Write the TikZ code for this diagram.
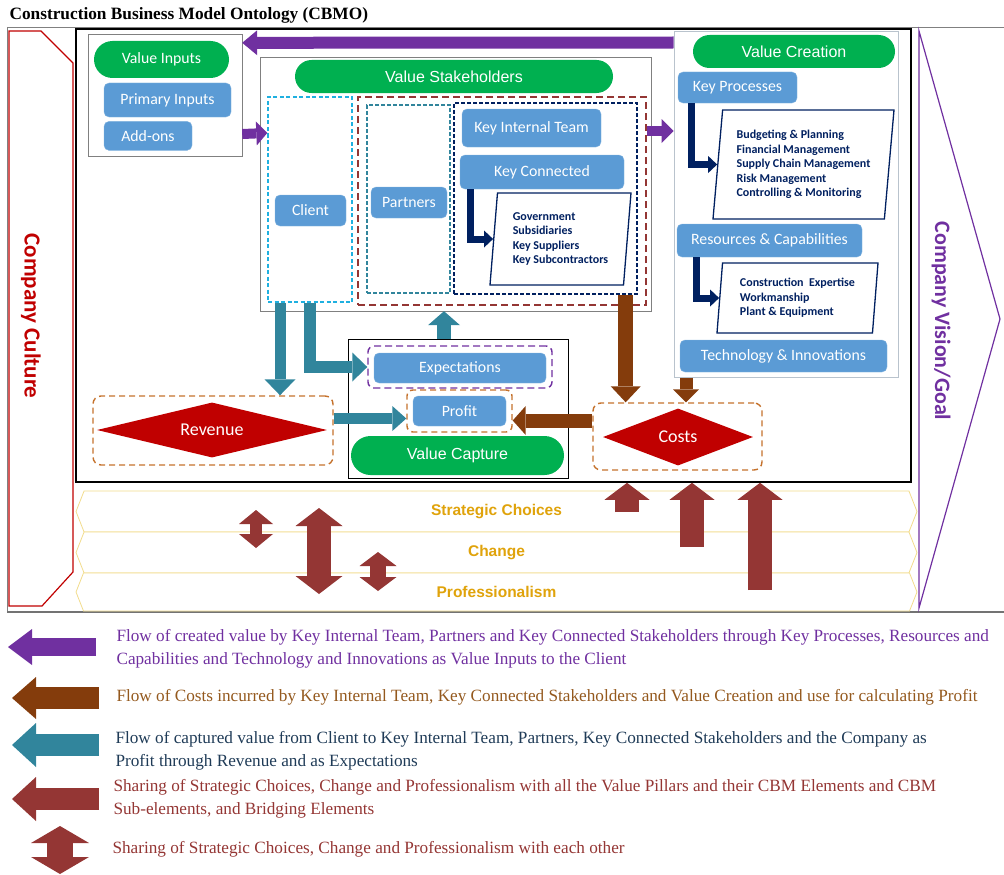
\documentclass[tikz,border=0pt]{standalone}
\usepackage{fontspec}
\setmainfont{Liberation Serif}
\newfontfamily\calibri{Carlito}
\newfontfamily\arialf{Liberation Sans}
\usetikzlibrary{positioning, arrows.meta, shapes.geometric, shapes.misc, shapes.symbols, fit}

\definecolor{cbgreen}{HTML}{00B050}
\definecolor{cbblue}{HTML}{5B9BD5}
\definecolor{cbpurple}{HTML}{7030A0}
\definecolor{cbteal}{HTML}{31859C}
\definecolor{cbbrown}{HTML}{843C0C}
\definecolor{cbmaroon}{HTML}{943634}
\definecolor{cbred}{HTML}{C00000}
\definecolor{cborange}{HTML}{C5722C}
\definecolor{cbcyan}{HTML}{1FB0E0}
\definecolor{cbnavy}{HTML}{002060}
\definecolor{cbgold}{HTML}{E0A30B}
\definecolor{cbpale}{HTML}{F2DC8C}
\definecolor{cbframe}{HTML}{B9C3CD}
\definecolor{cbcost}{HTML}{94591E}
\definecolor{cbslate}{HTML}{1F3B57}

\begin{document}
\begin{tikzpicture}[
    x=1pt, y=-1pt,
    pill/.style={rounded rectangle, fill=cbgreen, text=white, inner sep=0pt,
        font=\arialf\fontsize{16}{19}\selectfont},
    elem/.style={rectangle, rounded corners=5pt, fill=cbblue, draw=cbblue!75!white,
        text=white, inner sep=0pt, font=\calibri\fontsize{15.8}{18}\selectfont},
    pillar/.style={draw=#1, inner sep=0pt},
    zone/.style={draw=#1, dashed, line width=1.4pt, inner sep=0pt},
    sublist/.style={trapezium, trapezium left angle=82, trapezium right angle=98,
        trapezium stretches body, draw=cbnavy, line width=1.3pt, fill=white,
        align=left, text=cbnavy, inner sep=0pt,
        font=\calibri\bfseries\fontsize{12}{14.5}\selectfont},
    money/.style={diamond, fill=cbred, text=white, inner sep=0pt,
        font=\calibri\fontsize{18}{20}\selectfont},
    band/.style={signal, signal to=west and east, signal pointer angle=137,
        draw=cbpale, line width=0.8pt, fill=white, inner sep=0pt, text=cbgold,
        minimum width=841pt, font=\arialf\bfseries\fontsize{15.5}{17}\selectfont},
    legend/.style={anchor=west, align=left, font=\fontsize{17.2}{23}\selectfont},
    blockflow/.style n args={3}{line width=#1,
        -{Triangle[width=#2, length=#3, line width=0pt]}},
    twoflow/.style n args={3}{line width=#1,
        {Triangle[width=#2, length=#3, line width=0pt]}-{Triangle[width=#2, length=#3, line width=0pt]}}
]
\useasboundingbox (0,0) rectangle (1004,875);

% 标题
\node[anchor=base west, font=\bfseries\fontsize{17.3}{20}\selectfont] (title) at (6,20)
    {Construction Business Model Ontology (CBMO)};

% 外框
\draw[gray, line width=0.8pt] (7,27) -- (1004,27);
\draw[gray, line width=0.8pt] (7.5,27) -- (7.5,612);
\draw[gray!90!black, line width=2.5pt] (7,612) -- (1004,612);

% 企业文化与愿景
\draw[cbred, line width=1.2pt] (9,31) -- (41,31) -- (73,63) -- (73,572) -- (42,606) -- (9,606) -- cycle;
\node[rotate=-90, text=cbred, font=\calibri\bfseries\fontsize{23}{26}\selectfont] (culture) at (31,316) {Company Culture};
\draw[cbpurple, line width=1.2pt] (919,31) -- (1000,319) -- (919,608) -- cycle;
\node[rotate=-90, text=cbpurple, font=\calibri\bfseries\fontsize{22}{25}\selectfont] (vision) at (941,321) {Company Vision/Goal};

\node[draw=black, line width=1.6pt, inner sep=0pt, fit={(76,29) (911,482)}] (mainframe) {};

% 价值输入
\node[pillar=gray, fit={(88,34) (242,156)}] (inputsbox) {};
\node[pill, minimum width=135pt, minimum height=37pt, font=\calibri\fontsize{15.8}{18}\selectfont] (vinputs) at (161.5,59.5) {Value Inputs};
\node[elem, minimum width=127pt, minimum height=34pt] (primary) at (167.5,100) {Primary Inputs};
\node[elem, minimum width=88pt, minimum height=29pt, below=4pt of primary.south west, anchor=north west] (addons) {Add-ons};

% 价值相关方
\node[pillar=gray, fit={(260,57) (651,311)}] (shbox) {};
\node[pill, minimum width=318pt, minimum height=33pt] (vstake) at (454,76.5) {Value Stakeholders};
\node[zone=cbcyan, dash pattern=on 4pt off 2.5pt, fit={(268,97) (352,302)}] (clientzone) {};
\node[zone=cbmaroon, dash pattern=on 7pt off 4pt, fit={(358,97) (646,305)}] (sharezone) {};
\node[zone=cbteal, dash pattern=on 4pt off 2pt, fit={(367,105) (450,293)}] (partnerzone) {};
\node[zone=cbnavy, dash pattern=on 4pt off 2pt, fit={(454,103) (637,294)}] (teamzone) {};
\node[elem, minimum width=71pt, minimum height=31pt] (client) at (310.5,210.5) {Client};
\node[elem, minimum width=76pt, minimum height=31pt] (partners) at (409,202.5) {Partners};
\node[elem, minimum width=139pt, minimum height=38pt] (kit) at (531.5,128) {Key Internal Team};
\node[elem, minimum width=164pt, minimum height=34pt] (kc) at (542,172) {Key Connected};
\node[sublist, minimum width=141pt, minimum height=92pt] (kclist) at (560.5,239)
    {Government\\Subsidiaries\\Key Suppliers\\Key Subcontractors};
\draw[cbnavy, blockflow={7pt}{17pt}{9pt}] ([xshift=11pt]kc.south west) |- (kclist.west);

% 价值创造
\node[pillar=cbframe, line width=1pt, fit={(674,32) (898,377)}] (creationbox) {};
\node[pill, minimum width=202pt, minimum height=33pt] (vcreate) at (794,51.5) {Value Creation};
\node[elem, minimum width=119pt, minimum height=31pt] (kp) at (737.5,87.5) {Key Processes};
\node[sublist, minimum width=181pt, minimum height=109pt] (kplist) at (803.5,164.5)
    {Budgeting \& Planning\\Financial Management\\Supply Chain Management\\Risk Management\\Controlling \& Monitoring};
\node[elem, minimum width=185pt, minimum height=33pt] (rc) at (769.5,240.5) {Resources \& Capabilities};
\node[sublist, minimum width=161pt, minimum height=70pt] (rclist) at (797.5,298)
    {Construction\ \ Expertise\\Workmanship\\Plant \& Equipment};
\node[elem, minimum width=207pt, minimum height=32pt] (ti) at (783.5,356) {Technology \& Innovations};
\draw[cbnavy, blockflow={7pt}{17pt}{9pt}] ([xshift=14pt]kp.south west) |- (kplist.west);
\draw[cbnavy, blockflow={7pt}{17pt}{9pt}] ([xshift=20pt]rc.south west) |- (rclist.west);

% 价值获取
\node[pillar=black, line width=0.8pt, fit={(348,339) (568,478)}] (capturebox) {};
\node[zone=cbpurple, dash pattern=on 7pt off 4pt, rounded corners=6pt, fit={(368,346) (552,388)}] (expzone) {};
\node[zone=cborange, dash pattern=on 6pt off 4pt, rounded corners=6pt, fit={(407,390) (512,432)}] (profitzone) {};
\node[elem, minimum width=172pt, minimum height=30pt] (expect) at (460,368) {Expectations};
\node[elem, minimum width=93pt, minimum height=30pt] (profit) at (459.5,411) {Profit};
\node[pill, minimum width=213pt, minimum height=39pt] (vcapture) at (457.5,455.5) {Value Capture};

% 收入与成本
\node[zone=cborange, dash pattern=on 6pt off 4pt, rounded corners=8pt, fit={(93,396) (333,465)}] (revzone) {};
\node[money, minimum width=230pt, minimum height=55pt, aspect=4.2] (revenue) at (212,430) {Revenue};
\node[zone=cborange, dash pattern=on 6pt off 4pt, rounded corners=8pt, fit={(593,403) (762,470)}] (costzone) {};
\node[money, minimum width=150pt, minimum height=57pt, aspect=2.6] (costs) at (678,437) {Costs};

% 紫色流：创造价值
\draw[cbpurple, blockflow={12pt}{25pt}{15pt}] ([yshift=-11pt]creationbox.north west) -- ([yshift=-9pt]inputsbox.north east);
\draw[cbpurple, blockflow={10pt}{24pt}{11pt}] ([yshift=-39pt]inputsbox.east) -- ([yshift=66.5pt]clientzone.west);
\draw[cbpurple, blockflow={10pt}{24pt}{12pt}] ([yshift=70pt]sharezone.east) -- ([yshift=73.5pt]creationbox.west);

% 青色流：获取价值
\coordinate (t1) at ([xshift=-30pt]clientzone.south);
\draw[cbteal, blockflow={11pt}{31pt}{16pt}] (t1) -- (t1 |- revzone.north);
\draw[cbteal, blockflow={12pt}{29pt}{15pt}, line join=miter] (clientzone.south) |- (expzone.west);
\coordinate (t2) at ([xshift=-14pt]capturebox.north);
\draw[cbteal, blockflow={14pt}{32pt}{14pt}] (t2) -- (t2 |- shbox.south);
\coordinate (t3) at ([yshift=12pt]revzone.east);
\draw[cbteal, blockflow={11pt}{25pt}{14pt}] (t3) -- (profitzone.west |- t3);

% 棕色流：成本
\coordinate (b1) at ([xshift=-12pt]teamzone.south east);
\draw[cbbrown, blockflow={15pt}{30pt}{16pt}] (b1) -- (b1 |- costzone.north);
\coordinate (b2) at ([xshift=-100pt]creationbox.south);
\draw[cbbrown, blockflow={13pt}{26pt}{13pt}] (b2) -- (b2 |- costzone.north);
\coordinate (b3) at ([yshift=16pt]costzone.west);
\draw[cbbrown, blockflow={14pt}{29pt}{13pt}] (b3) -- (profitzone.east |- b3);

% 底层要素
\node[band, minimum height=41pt] (strategic) at (496.5,511.5) {Strategic Choices};
\node[band, minimum height=41pt] (change) at (496.5,552.5) {Change};
\node[band, minimum height=38pt] (professional) at (496.5,592) {Professionalism};

% 相互共享
\coordinate (d1a) at (256,510); \coordinate (d1b) at (256,548);
\coordinate (d2a) at (319,508); \coordinate (d2b) at (319,594);
\coordinate (d3a) at (378,552); \coordinate (d3b) at (378,591);
\draw[cbmaroon, twoflow={12pt}{34pt}{14pt}] (d1a) -- (d1b);
\draw[cbmaroon, twoflow={24pt}{47pt}{18pt}] (d2a) -- (d2b);
\draw[cbmaroon, twoflow={16pt}{37pt}{14pt}] (d3a) -- (d3b);

% 向上共享
\coordinate (u1) at (627,512);
\coordinate (u2) at (692,547);
\coordinate (u3) at (760,590);
\foreach \u in {u1,u2,u3}
    \draw[cbmaroon, blockflow={24pt}{45pt}{17pt}] (\u) -- (\u |- mainframe.south);

% 图例
\node[legend, text=cbpurple] (lg1) at (113,648.5)
    {Flow of created value by Key Internal Team, Partners and Key Connected Stakeholders through Key Processes, Resources and\\Capabilities and Technology and Innovations as Value Inputs to the Client};
\node[legend, text=cbcost] (lg2) at (113,697)
    {Flow of Costs incurred by Key Internal Team, Key Connected Stakeholders and Value Creation and use for calculating Profit};
\node[legend, text=cbslate] (lg3) at (112,751)
    {Flow of captured value from Client to Key Internal Team, Partners, Key Connected Stakeholders and the Company as\\Profit through Revenue and as Expectations};
\node[legend, text=cbmaroon] (lg4) at (110,798.5)
    {Sharing of Strategic Choices, Change and Professionalism with all the Value Pillars and their CBM Elements and CBM\\Sub-elements, and Bridging Elements};
\node[legend, text=cbmaroon] (lg5) at (109,849)
    {Sharing of Strategic Choices, Change and Professionalism with each other};

\coordinate (k1a) at (96,647);  \coordinate (k1b) at (8,647);
\coordinate (k2a) at (99,698);  \coordinate (k2b) at (12,698);
\coordinate (k3a) at (99,745);  \coordinate (k3b) at (12,745);
\coordinate (k4a) at (99,799);  \coordinate (k4b) at (12,799);
\coordinate (k5a) at (60,826);  \coordinate (k5b) at (60,874);
\draw[cbpurple, blockflow={18pt}{36pt}{24pt}] (k1a) -- (k1b);
\draw[cbbrown, blockflow={22pt}{42pt}{24pt}] (k2a) -- (k2b);
\draw[cbteal, blockflow={22pt}{44pt}{24pt}] (k3a) -- (k3b);
\draw[cbmaroon, blockflow={22pt}{44pt}{24pt}] (k4a) -- (k4b);
\draw[cbmaroon, twoflow={26pt}{58pt}{17pt}] (k5a) -- (k5b);

\end{tikzpicture}
\end{document}
